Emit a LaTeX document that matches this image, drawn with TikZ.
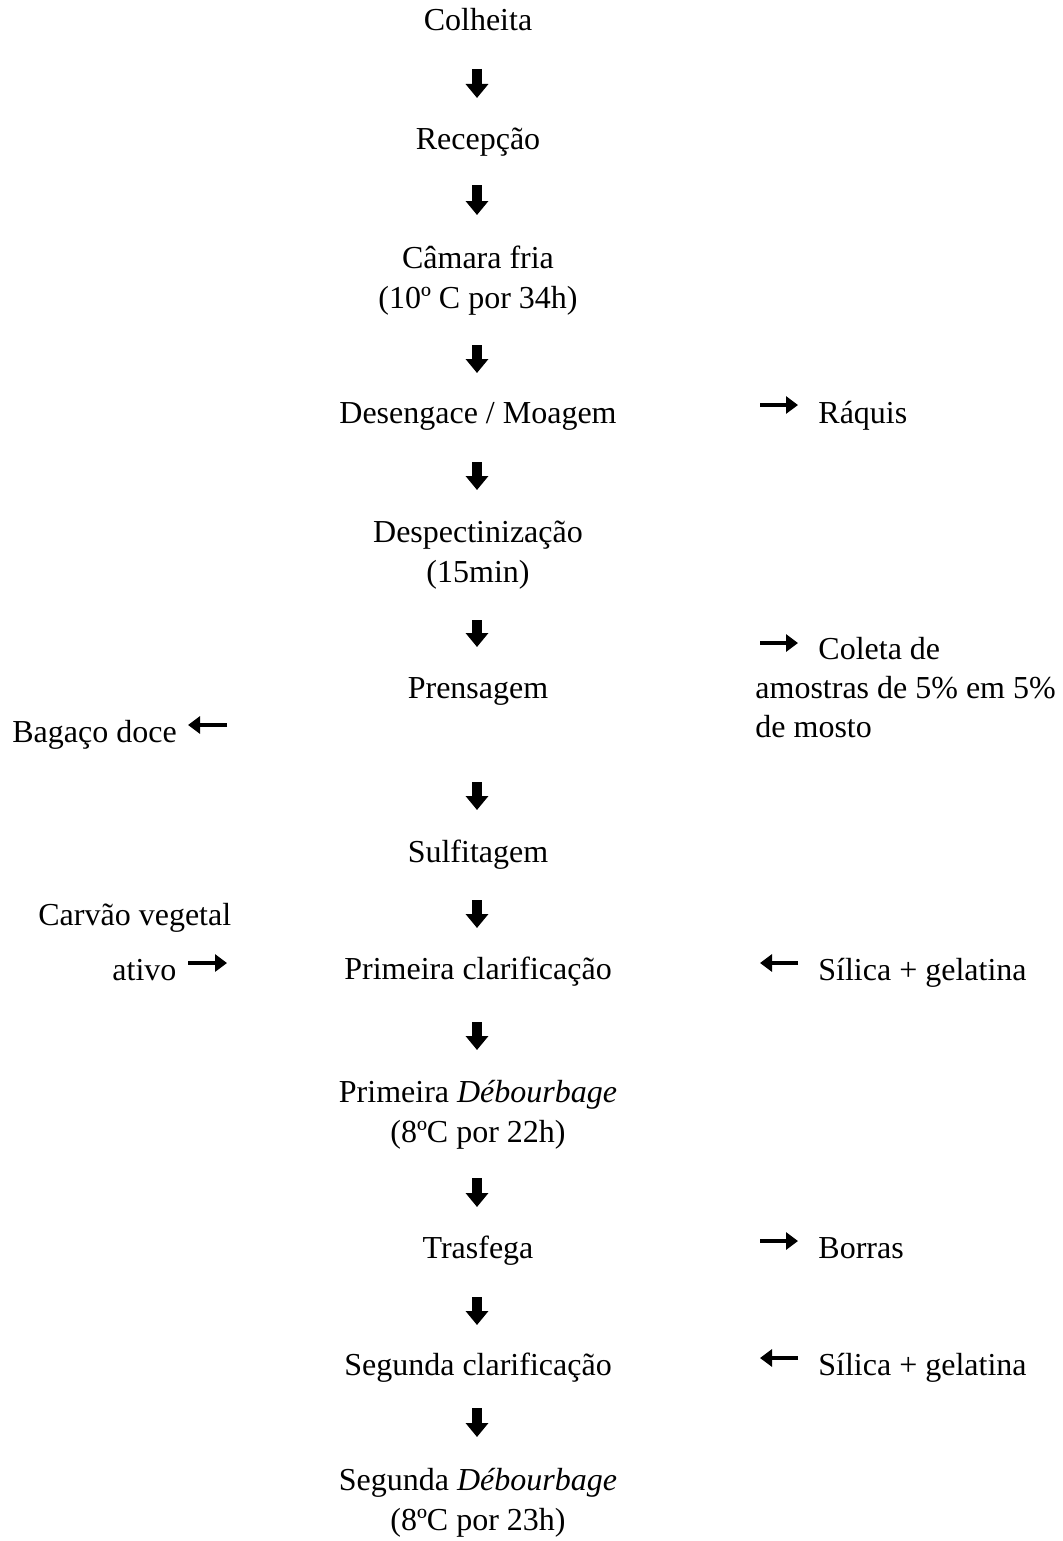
\documentclass[tikz,border=0pt]{standalone}
\usepackage{fontspec}
\setmainfont{Liberation Serif}
\usetikzlibrary{arrows.meta}
\begin{document}
\begin{tikzpicture}[x=0.5pt,y=-0.5pt,
  txt/.style={inner sep=0pt, font=\fontsize{16}{20}\selectfont, align=center, anchor=base},
  ltxt/.style={inner sep=0pt, font=\fontsize{16}{19.5}\selectfont, align=left, anchor=base west},
  darr/.style={line width=5pt, -{Triangle[length=7pt,width=11pt]}},
  harr/.style={line width=2pt, -{Triangle[length=6pt,width=8.5pt]}}]
\useasboundingbox (0,0) rectangle (1062,1541);

% main steps (base anchor = last line's baseline)
\node[txt] (colheita) at (478,31) {Colheita};
\node[txt] (recepcao) at (478,149) {Recepção};
\node[txt] (camara) at (478,308) {Câmara fria\\(10º C por 34h)};
\node[txt] (desengace) at (478,423) {Desengace / Moagem};
\node[txt] (despect) at (478,582) {Despectinização\\(15min)};
\node[txt] (prensagem) at (478,698) {Prensagem};
\node[txt] (sulfitagem) at (478,862) {Sulfitagem};
\node[txt] (clar1) at (478,979) {Primeira clarificação};
\node[txt] (debour1) at (478,1142) {Primeira \textit{Débourbage}\\(8ºC por 22h)};
\node[txt] (trasfega) at (478,1258) {Trasfega};
\node[txt] (clar2) at (478,1375) {Segunda clarificação};
\node[txt] (debour2) at (478,1530) {Segunda \textit{Débourbage}\\(8ºC por 23h)};

% side labels
\node[ltxt] (raquis) at (818,423) {Ráquis};
\node[ltxt] (coleta) at (755,737) {\hspace*{31.5pt}Coleta de\\amostras de 5\% em 5\%\\de mosto};
\node[ltxt] (bagaco) at (12,742) {Bagaço doce};
\node[ltxt] (carvao) at (38,925) {Carvão vegetal};
\node[ltxt] (ativo) at (112,980) {ativo};
\node[ltxt] (silica1) at (818,980) {Sílica + gelatina};
\node[ltxt] (borras) at (818,1258) {Borras};
\node[ltxt] (silica2) at (818,1375) {Sílica + gelatina};

% down arrows
\foreach \i/\t/\b in {1/69/98, 2/185/215, 3/345/373, 4/462/490, 5/620/647,
  6/782/810, 7/900/928, 8/1022/1050, 9/1178/1207, 10/1297/1325, 11/1408/1437} {
  \coordinate (d\i s) at (477,\t);
  \coordinate (d\i e) at (477,\b);
  \draw[darr] (d\i s) -- (d\i e);
}

% side arrows
\coordinate (r1s) at (760,405);  \coordinate (r1e) at (798,405);
\coordinate (r2s) at (760,643);  \coordinate (r2e) at (798,643);
\coordinate (l1s) at (227,725);  \coordinate (l1e) at (188,725);
\coordinate (l2s) at (188,963);  \coordinate (l2e) at (227,963);
\coordinate (r3s) at (798,963);  \coordinate (r3e) at (760,963);
\coordinate (r4s) at (760,1241); \coordinate (r4e) at (798,1241);
\coordinate (r5s) at (798,1358); \coordinate (r5e) at (760,1358);
\draw[harr] (r1s) -- (r1e);
\draw[harr] (r2s) -- (r2e);
\draw[harr] (l1s) -- (l1e);
\draw[harr] (l2s) -- (l2e);
\draw[harr] (r3s) -- (r3e);
\draw[harr] (r4s) -- (r4e);
\draw[harr] (r5s) -- (r5e);
\end{tikzpicture}
\end{document}
